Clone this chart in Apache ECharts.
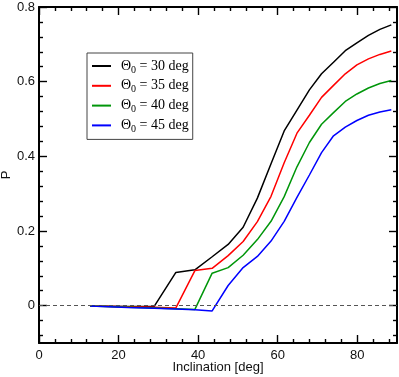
<!DOCTYPE html>
<html><head><meta charset="utf-8">
<script src="https://cdn.jsdelivr.net/npm/echarts@6/dist/echarts.min.js"></script>
<style>html,body{margin:0;padding:0;background:#fff}#c{width:399px;height:377px}</style>
</head><body><div id="c"></div>
<script>
const inclination = [12.84,22.33,28.96,34.41,39.19,43.53,47.55,51.32,54.90,58.33,61.64,64.85,67.98,71.03,74.04,77.00,79.92,82.82,85.70,88.57];
const p30 = [-0.001,-0.002,-0.002,0.089,0.096,0.131,0.164,0.210,0.288,0.380,0.468,0.524,0.578,0.621,0.652,0.683,0.704,0.724,0.740,0.752];
const p35 = [-0.001,-0.003,-0.004,-0.006,0.094,0.100,0.134,0.172,0.225,0.293,0.383,0.462,0.510,0.558,0.590,0.621,0.645,0.661,0.673,0.682];
const p40 = [-0.001,-0.004,-0.006,-0.008,-0.010,0.087,0.102,0.135,0.177,0.226,0.292,0.372,0.437,0.486,0.517,0.547,0.567,0.583,0.595,0.603];
const p45 = [-0.001,-0.005,-0.007,-0.009,-0.011,-0.014,0.054,0.102,0.132,0.173,0.226,0.290,0.350,0.410,0.455,0.478,0.496,0.510,0.519,0.525];
const theta0 = ['30','35','40','45'];
const seriesColors = ['#000000','#ff0000','#00960a','#0000ff'];
const xMajor = [0,20,40,60,80];
const xMinor = [4,8,12,16,24,28,32,36,44,48,52,56,64,68,72,76,84,88];
const yMajor = [0,0.2,0.4,0.6,0.8];
const yMinor = [-0.08,-0.04,0.04,0.08,0.12,0.16,0.24,0.28,0.32,0.36,0.44,0.48,0.52,0.56,0.64,0.68,0.72,0.76];

const FONT = '"Liberation Sans", Arial, sans-serif';
const SERIF = '"Liberation Serif", "Times New Roman", serif';
const chart = echarts.init(document.getElementById('c'), null, {renderer:'canvas'});
const values = [p30,p35,p40,p45];

function xAx(pos, ticks, len, labels, line){
  return {type:'value', min:0, max:90, position:pos,
    axisLine:{show:line, onZero:false, lineStyle:{color:'#000', width:2}},
    axisTick:{show:true, inside:true, length:len, customValues:ticks, lineStyle:{color:'#000', width:1.4}},
    axisLabel:{show:labels, customValues:ticks, color:'#111', fontFamily:FONT, fontSize:13, margin:6},
    splitLine:{show:false}};
}
function yAx(pos, ticks, len, labels, line){
  return {type:'value', min:-0.1, max:0.8, position:pos,
    axisLine:{show:line, onZero:false, lineStyle:{color:'#000', width:2}},
    axisTick:{show:true, inside:true, length:len, customValues:ticks, lineStyle:{color:'#000', width:1.4}},
    axisLabel:{show:labels, customValues:ticks, color:'#111', fontFamily:FONT, fontSize:13, margin:4,
      formatter: v => v===0 ? '0' : v.toFixed(1)},
    splitLine:{show:false}};
}
const xAxes = [xAx('bottom', xMajor, 8, true, true), xAx('bottom', xMinor, 4, false, false),
               xAx('top', xMajor, 8, false, true), xAx('top', xMinor, 4, false, false)];
xAxes[0].name = 'Inclination [deg]';
xAxes[0].nameLocation = 'middle';
xAxes[0].nameGap = 18;
xAxes[0].nameMoveOverlap = false;
xAxes[0].nameTextStyle = {color:'#111', fontFamily:FONT, fontSize:13};
const yAxes = [yAx('left', yMajor, 8, true, true), yAx('left', yMinor, 4, false, false),
               yAx('right', yMajor, 8, false, true), yAx('right', yMinor, 4, false, false)];
yAxes[0].name = 'P';
yAxes[0].nameLocation = 'middle';
yAxes[0].nameGap = 26;
yAxes[0].nameMoveOverlap = false;
yAxes[0].nameTextStyle = {color:'#111', fontFamily:FONT, fontSize:13};

const series = values.map((vals, i) => ({
  name: 'Θ0 = ' + theta0[i] + ' deg',
  type:'line', symbol:'none', showSymbol:false, xAxisIndex:0, yAxisIndex:0,
  color: seriesColors[i],
  itemStyle:{color:seriesColors[i]},
  lineStyle:{color:seriesColors[i], width:1.5},
  data: inclination.map((x, k) => [x, vals[k]]),
  z: 3,
  animation:false
}));
series[0].markLine = {silent:true, symbol:'none', label:{show:false},
  lineStyle:{color:'#555', type:[4,3], width:1}, data:[{yAxis:0}], animation:false};

chart.setOption({
  animation:false,
  backgroundColor:'#fff',
  grid:{left:39, right:2, top:7, bottom:34, containLabel:false, outerBoundsMode:'none'},
  xAxis: xAxes,
  yAxis: yAxes,
  legend:{
    orient:'vertical', left:87, top:53,
    backgroundColor:'#fff', borderColor:'#444', borderWidth:1,
    padding:[6,4,5,5], itemGap:3.8, itemWidth:19, itemHeight:2,
    icon:'rect',
    data: series.map((s, i) => ({name:s.name, itemStyle:{color:seriesColors[i], borderWidth:0}})),
    formatter: name => {
      const rest = name.slice(2);
      return '{a|Θ}{s|0}{a|' + rest + '}';
    },
    textStyle:{color:'#000', fontFamily:SERIF, fontSize:14, padding:[0,0,0,5],
      rich:{
        a:{fontFamily:SERIF, fontSize:14, color:'#000'},
        s:{fontFamily:SERIF, fontSize:10, color:'#000', padding:[8,0,0,0]}
      }}
  },
  series: series
});
</script></body></html>
